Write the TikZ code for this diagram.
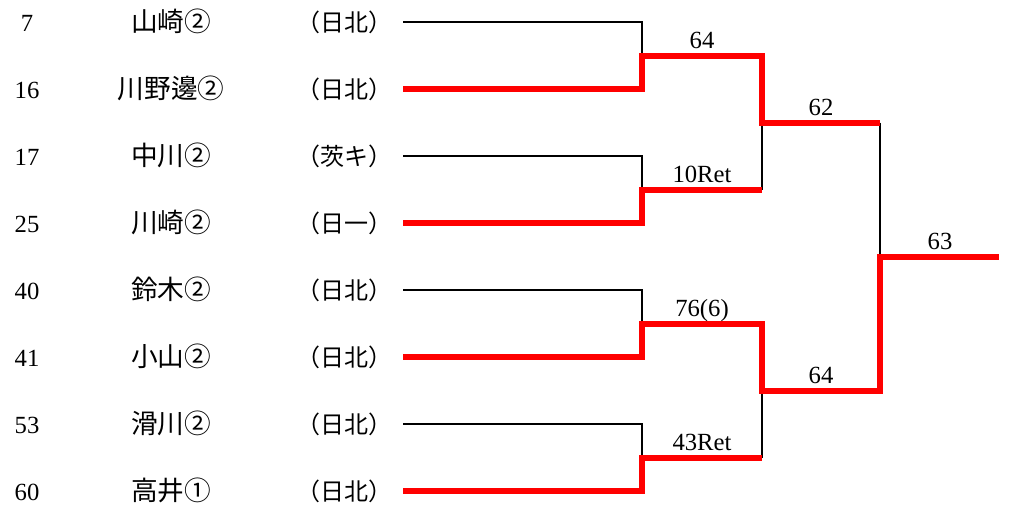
\documentclass[tikz,border=0pt]{standalone}
\usepackage{fontspec}
\setmainfont{Liberation Serif}
\newfontfamily\jpfont{Noto Sans CJK JP}
\begin{document}
\begin{tikzpicture}[
    x=0.75pt, y=-0.75pt,
    seed/.style={anchor=base, inner sep=0pt, font=\fontsize{18.5}{20}\selectfont},
    player/.style={anchor=base, inner sep=0pt, font=\jpfont\fontsize{20}{22}\selectfont},
    school/.style={anchor=base, inner sep=0pt, font=\jpfont\fontsize{18}{20}\selectfont},
    score/.style={anchor=base, inner sep=0pt, font=\fontsize{18.5}{20}\selectfont},
    lose/.style={draw=black, line width=2.1pt},
    win/.style={draw=red, line width=4.5pt}
]
    \useasboundingbox (0,0) rectangle (1009,508);

    % Riga 1
    \node[seed] (n1) at (27,31) {7};
    \node[player] (p1) at (171,31.5) {山崎②};
    \node[school] (s1) at (344,31) {（日北）};
    \coordinate (e1) at (403,22);

    % Riga 2
    \node[seed] (n2) at (27,98) {16};
    \node[player] (p2) at (171,98.5) {川野邊②};
    \node[school] (s2) at (344,98) {（日北）};
    \coordinate (e2) at (403,89);

    % Riga 3
    \node[seed] (n3) at (27,165) {17};
    \node[player] (p3) at (171,165.5) {中川②};
    \node[school] (s3) at (344,165) {（茨キ）};
    \coordinate (e3) at (403,156);

    % Riga 4
    \node[seed] (n4) at (27,232) {25};
    \node[player] (p4) at (171,232.5) {川崎②};
    \node[school] (s4) at (344,232) {（日一）};
    \coordinate (e4) at (403,223);

    % Riga 5
    \node[seed] (n5) at (27,299) {40};
    \node[player] (p5) at (171,299.5) {鈴木②};
    \node[school] (s5) at (344,299) {（日北）};
    \coordinate (e5) at (403,290);

    % Riga 6
    \node[seed] (n6) at (27,366) {41};
    \node[player] (p6) at (171,366.5) {小山②};
    \node[school] (s6) at (344,366) {（日北）};
    \coordinate (e6) at (403,357);

    % Riga 7
    \node[seed] (n7) at (27,433) {53};
    \node[player] (p7) at (171,433.5) {滑川②};
    \node[school] (s7) at (344,433) {（日北）};
    \coordinate (e7) at (403,424);

    % Riga 8
    \node[seed] (n8) at (27,500) {60};
    \node[player] (p8) at (171,500.5) {高井①};
    \node[school] (s8) at (344,500) {（日北）};
    \coordinate (e8) at (403,491);

    % Turno 1
    \coordinate (a1) at (642,55.5);
    \coordinate (a2) at (642,189.5);
    \coordinate (a3) at (642,323.5);
    \coordinate (a4) at (642,457.5);
    \coordinate (b1) at (762,55.5);
    \coordinate (b2) at (762,189.5);
    \coordinate (b3) at (762,323.5);
    \coordinate (b4) at (762,457.5);

    % Turno 2
    \coordinate (j1) at (762,122.5);
    \coordinate (j2) at (762,390.5);
    \coordinate (c1) at (880,122.5);
    \coordinate (c2) at (880,390.5);

    % Finale
    \coordinate (f) at (880,256.5);
    \coordinate (w) at (999,256.5);

    \draw[lose] (e1) -| (a1);
    \draw[lose] (e3) -| (a2);
    \draw[lose] (e5) -| (a3);
    \draw[lose] (e7) -| (a4);
    \draw[lose] (b2) -- (j1);
    \draw[lose] (b4) -- (j2);
    \draw[lose] (c1) -- (f);

    \draw[win] (e2) -| (a1) -- (b1) -- (j1) -- (c1);
    \draw[win] (e4) -| (a2) -- (b2);
    \draw[win] (e6) -| (a3) -- (b3) -- (j2) -- (c2) -- (f) -- (w);
    \draw[win] (e8) -| (a4) -- (b4);

    % Punteggi
    \node[score] (r1) at (702,48) {64};
    \node[score] (r2) at (702,182) {10Ret};
    \node[score] (r3) at (702,316) {76(6)};
    \node[score] (r4) at (702,450) {43Ret};
    \node[score] (q1) at (821,115) {62};
    \node[score] (q2) at (821,383) {64};
    \node[score] (fin) at (940,249) {63};
\end{tikzpicture}
\end{document}
